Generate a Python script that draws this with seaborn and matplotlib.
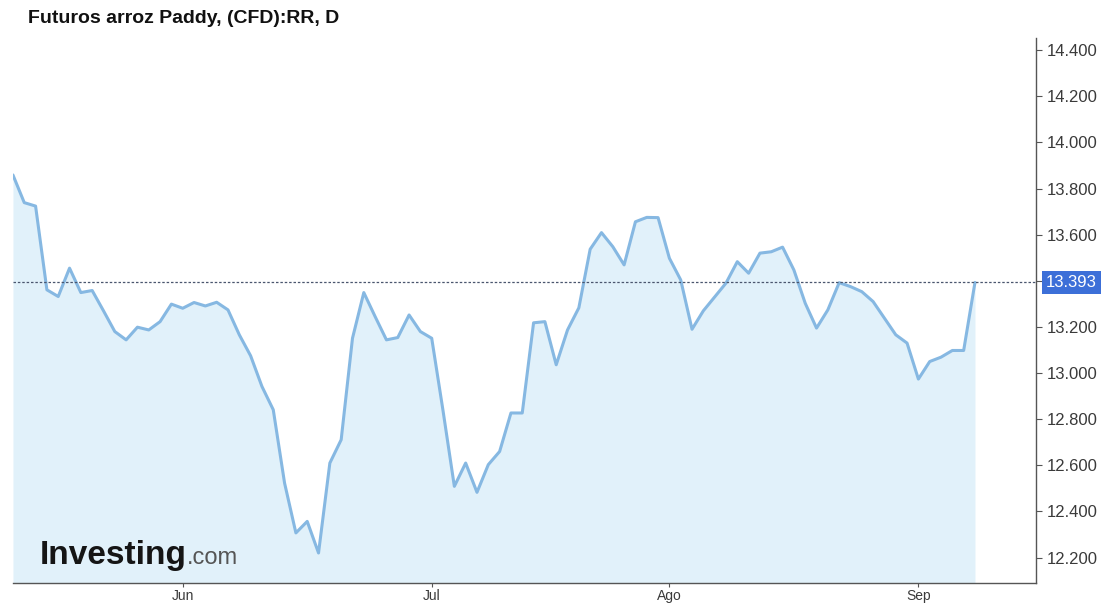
import numpy as np
import pandas as pd
import matplotlib
matplotlib.use("Agg")
import matplotlib.pyplot as plt
import matplotlib.transforms as mtransforms
import seaborn as sns

# Daily closes, Rough Rice CFD (RR)
prices = [
    13.859, 13.739, 13.724, 13.361, 13.332, 13.455, 13.349, 13.358, 13.270, 13.180,
    13.144, 13.199, 13.187, 13.223, 13.299, 13.281, 13.306, 13.291, 13.307, 13.274,
    13.166, 13.075, 12.942, 12.841, 12.523, 12.307, 12.357, 12.220, 12.610, 12.711,
    13.151, 13.349, 13.245, 13.144, 13.154, 13.252, 13.180, 13.151, 12.837, 12.509,
    12.610, 12.483, 12.603, 12.660, 12.827, 12.827, 13.218, 13.223, 13.036, 13.187,
    13.283, 13.537, 13.609, 13.548, 13.469, 13.656, 13.675, 13.674, 13.498, 13.404,
    13.190, 13.270, 13.330, 13.390, 13.483, 13.433, 13.520, 13.526, 13.546, 13.447,
    13.303, 13.195, 13.274, 13.392, 13.375, 13.353, 13.310, 13.238, 13.166, 13.130,
    12.974, 13.050, 13.069, 13.098, 13.098, 13.393,
]
last_price = 13.393
month_labels = ["Jun", "Jul", "Ago", "Sep"]
title = "Futuros arroz Paddy, (CFD):RR, D"

# trading days (no weekends / US holidays)
dates = pd.bdate_range("2021-05-10", "2021-09-09", freq="C",
                       holidays=["2021-05-31", "2021-07-05", "2021-09-06"])

df = pd.DataFrame({"date": dates, "price": prices})
df["pos"] = np.arange(len(df))

# first trading day of each month -> x tick
month_start = df.groupby(df["date"].dt.to_period("M"))["pos"].min().iloc[1:]

sns.set_style("white")
plt.rcParams["font.family"] = ["Liberation Sans", "DejaVu Sans"]

fig = plt.figure(figsize=(11.16, 6.06), dpi=100)
ax = fig.add_axes([0.0116, 0.038, 0.9168, 0.899])

line_col = "#86b8e2"
fill_col = "#e1f1fa"

ax.fill_between(df["pos"], df["price"], 12.0, color=fill_col, linewidth=0)
sns.lineplot(data=df, x="pos", y="price", ax=ax, color=line_col, linewidth=2.2)

ax.axhline(last_price, color="#4a566e", linewidth=0.9, linestyle=(0, (2.0, 1.5)))

ax.set_xlim(0, 90.4)
ax.set_ylim(12.090, 14.452)

ax.yaxis.tick_right()
yt = np.round(np.arange(12.2, 14.41, 0.2), 1)
ax.set_yticks(yt)
ax.set_yticklabels([f"{v:.3f}" for v in yt])
ax.set_xticks(month_start.values)
ax.set_xticklabels(month_labels)

ax.tick_params(axis="y", which="both", right=True, left=False, length=4, width=0.8,
               color="#555555", labelcolor="#3a3a3a", labelsize=12, pad=4)
ax.tick_params(axis="x", bottom=True, length=3, width=0.8, color="#555555",
               labelcolor="#3a3a3a", labelsize=10, pad=1.5)

for s in ["left", "top"]:
    ax.spines[s].set_visible(False)
for s in ["right", "bottom"]:
    ax.spines[s].set_color("#555555")
    ax.spines[s].set_linewidth(1.0)

ax.set_xlabel("")
ax.set_ylabel("")

# current price tag
trans = mtransforms.blended_transform_factory(ax.transAxes, ax.transData)
ax.annotate(f"{last_price:.3f}", xy=(1.0, last_price), xycoords=trans,
            xytext=(7, 0), textcoords="offset points", ha="left", va="center",
            color="white", fontsize=12, annotation_clip=False,
            bbox=dict(boxstyle="square,pad=0.25", fc="#3c6fd8", ec="none"))

# watermark
logo = ax.text(0.026, 0.034, "Investing", transform=ax.transAxes, fontsize=24,
               fontweight="bold", color="#151515", ha="left", va="baseline")
ax.annotate(".com", xy=(1.0, 0.034), xycoords=(logo, "axes fraction"),
            fontsize=17, color="#555555", ha="left", va="baseline")

fig.text(0.025, 0.970, title, fontsize=14, fontweight="bold", color="#111111",
         ha="left", va="center")

fig.savefig("out.png", dpi=100)
